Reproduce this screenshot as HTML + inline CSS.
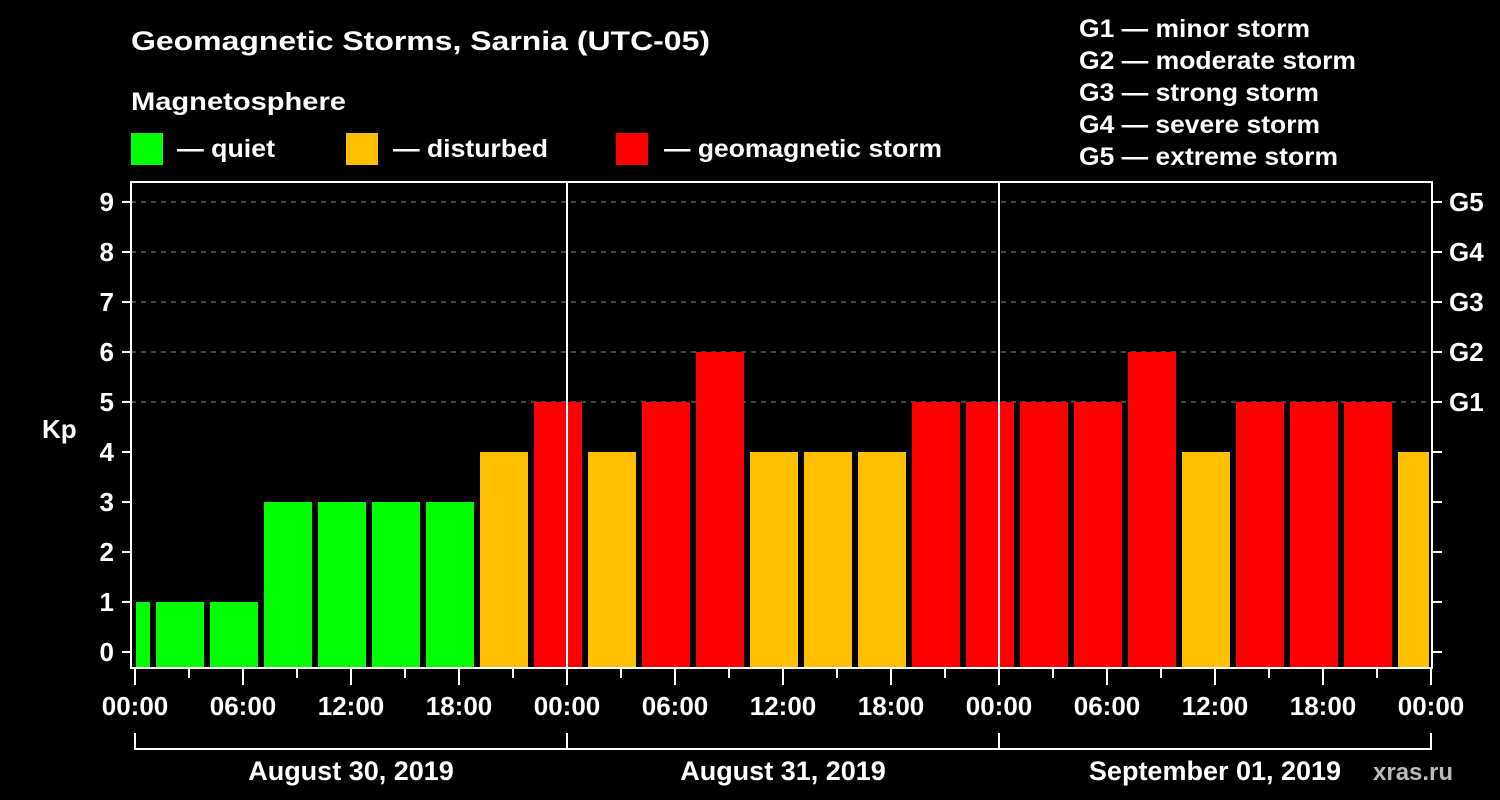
<!DOCTYPE html>
<html><head><meta charset="utf-8"><style>
body{margin:0;background:#000;}
svg{display:block;font-family:"Liberation Sans",Arial,sans-serif;font-weight:bold;fill:#fff;}
</style></head><body>
<svg id="c" width="1500" height="800" viewBox="0 0 1500 800">
<rect width="1500" height="800" fill="#000"/>
<text x="131" y="50" font-size="27" textLength="579" lengthAdjust="spacingAndGlyphs">Geomagnetic Storms, Sarnia (UTC-05)</text>
<text x="131" y="110" font-size="25" textLength="215" lengthAdjust="spacingAndGlyphs">Magnetosphere</text>
<g><rect x="131" y="133" width="32" height="32" fill="#00ff00"/><text x="177" y="157" font-size="25" textLength="98" lengthAdjust="spacingAndGlyphs">— quiet</text></g>
<g><rect x="346" y="133" width="32" height="32" fill="#ffc000"/><text x="393" y="157" font-size="25" textLength="155" lengthAdjust="spacingAndGlyphs">— disturbed</text></g>
<g><rect x="616" y="133" width="32" height="32" fill="#ff0000"/><text x="664" y="157" font-size="25" textLength="278" lengthAdjust="spacingAndGlyphs">— geomagnetic storm</text></g>
<g font-size="25">
<text x="1079" y="37" textLength="231" lengthAdjust="spacingAndGlyphs">G1 — minor storm</text>
<text x="1079" y="69" textLength="277" lengthAdjust="spacingAndGlyphs">G2 — moderate storm</text>
<text x="1079" y="101" textLength="240" lengthAdjust="spacingAndGlyphs">G3 — strong storm</text>
<text x="1079" y="133" textLength="241" lengthAdjust="spacingAndGlyphs">G4 — severe storm</text>
<text x="1079" y="165" textLength="259" lengthAdjust="spacingAndGlyphs">G5 — extreme storm</text>
</g>
<text x="42" y="438" font-size="26">Kp</text>
<text x="1373" y="780" font-size="24" style="fill:#bbb">xras.ru</text>
<g id="grid"></g><g id="bars"></g><g id="axes"></g>
</svg>
<script>
const kpValues=[1,1,1,3,3,3,3,4,5,4,5,6,4,4,4,5,5,5,5,6,4,5,5,5,4];
const yTicks=[0,1,2,3,4,5,6,7,8,9];
const gLabels=["G1","G2","G3","G4","G5"];
const xLabels=["00:00","06:00","12:00","18:00","00:00","06:00","12:00","18:00","00:00","06:00","12:00","18:00","00:00"];
const dayLabels=["August 30, 2019","August 31, 2019","September 01, 2019"];
const NS="http://www.w3.org/2000/svg";
const X0=135,PXH=18,L=131,R=1432,T=182,B=668;
const xOf=h=>X0+h*PXH;
const yOf=v=>652-v*50;
function mk(tag,attrs,parent,txt){const e=document.createElementNS(NS,tag);for(const k in attrs)e.setAttribute(k,attrs[k]);if(txt!=null)e.textContent=txt;parent.appendChild(e);return e;}
const grid=document.getElementById('grid'),bars=document.getElementById('bars'),axes=document.getElementById('axes');
for(let v=5;v<=9;v++){
 const l=mk('line',{x1:L,x2:R,y1:yOf(v),y2:yOf(v),stroke:'#888','stroke-dasharray':'5,5','stroke-width':1},grid);
 
 
}
kpValues.forEach((v,i)=>{
 const s=-2+3*i;
 let x1=xOf(s)+3,x2=xOf(s+3)-3;
 x1=Math.max(x1,136);x2=Math.min(x2,1429);
 const col=v>=5?'#ff0000':(v>=4?'#ffc000':'#00ff00');
 const r=mk('rect',{x:x1,y:yOf(v),width:x2-x1,height:B-yOf(v),fill:col},bars);
 
 
});
[1,2].forEach(d=>{
 const l=mk('line',{x1:xOf(24*d),x2:xOf(24*d),y1:T,y2:B,stroke:'#fff','stroke-width':2},axes);
 
 
});
const fr=mk('rect',{x:L,y:T,width:R-L,height:B-T,fill:'none',stroke:'#fff','stroke-width':2},axes);


yTicks.forEach(v=>{
 mk('line',{x1:122,x2:L,y1:yOf(v),y2:yOf(v),stroke:'#fff','stroke-width':2},axes);
 mk('line',{x1:R,x2:1442,y1:yOf(v),y2:yOf(v),stroke:'#fff','stroke-width':2},axes);
 const t=mk('text',{x:114,y:yOf(v)+9,'font-size':26,'text-anchor':'end'},axes,String(v));
 
 
});
gLabels.forEach((g,i)=>{
 const t=mk('text',{x:1449,y:yOf(5+i)+9,'font-size':26},axes,g);
 
 
});
for(let h=0;h<=72;h+=3){mk('line',{x1:xOf(h),x2:xOf(h),y1:B,y2:h%6?678:685,stroke:'#fff','stroke-width':2},axes);}
xLabels.forEach((s,i)=>{
 const t=mk('text',{x:xOf(i*6),y:715,'font-size':26,'text-anchor':'middle'},axes,s);
 
 
});
const br=mk('path',{d:`M${xOf(0)},733V749H${xOf(72)}V733M${xOf(24)},733V749M${xOf(48)},733V749`,fill:'none',stroke:'#fff','stroke-width':2},axes);


dayLabels.forEach((d,i)=>{
 const t=mk('text',{x:xOf(24*i+12),y:780,'font-size':27,'text-anchor':'middle'},axes,d);
 
 
});
</script>
</body></html>
